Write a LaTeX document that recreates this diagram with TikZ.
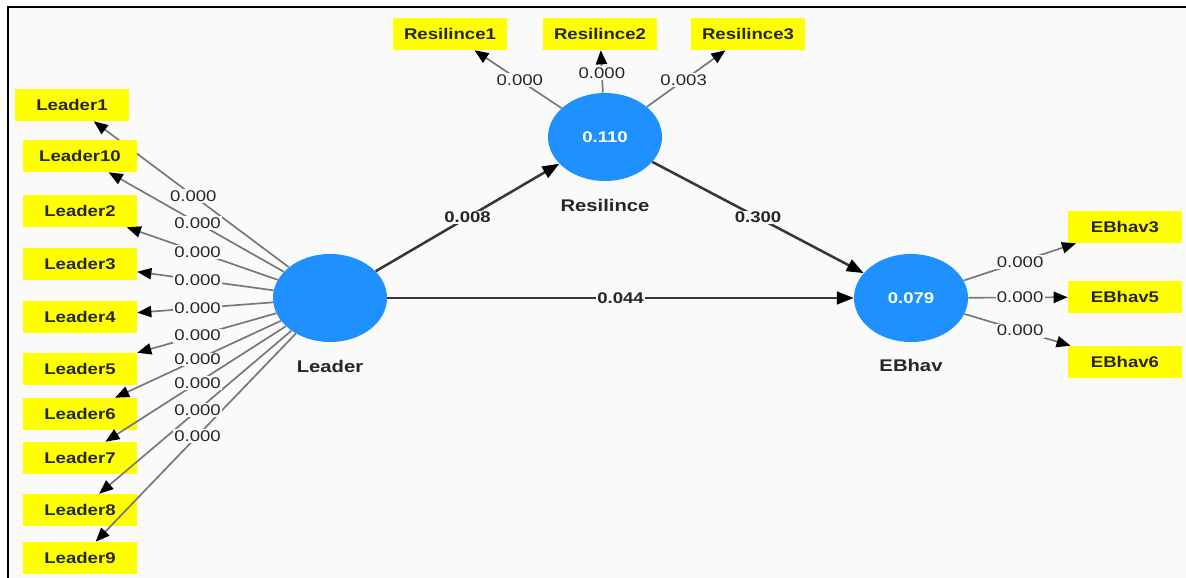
\documentclass[tikz,border=0pt]{standalone}
\usepackage{fontspec}
\setmainfont{Liberation Sans}[FakeStretch=1.2]
\usepackage{tikz}
\usetikzlibrary{arrows.meta,calc,positioning,shapes.geometric}
\definecolor{plsblue}{RGB}{30,144,255}
\definecolor{plsbg}{RGB}{250,250,250}
\definecolor{plsyel}{RGB}{255,255,0}
\definecolor{plsgray}{RGB}{120,120,120}
\definecolor{plsdark}{RGB}{55,55,55}

\begin{document}
\begin{tikzpicture}[x=0.025cm,y=-0.025cm,
  lv/.style={ellipse,fill=plsblue,minimum width=2.85cm,minimum height=2.2cm,inner sep=0pt,
    text=white,font=\bfseries\fontsize{11}{13}\selectfont},
  lvname/.style={font=\bfseries\fontsize{12}{14}\selectfont,text=black!85},
  mv/.style={rectangle,fill=plsyel,minimum width=2.85cm,minimum height=0.8cm,inner sep=0pt,
    font=\bfseries\fontsize{11}{13}\selectfont,text=black!85},
  ind/.style={draw=plsgray,line width=1.2pt,-{Triangle[length=10pt,width=8pt,color=black]}},
  pth/.style={draw=plsdark,line width=1.8pt,-{Triangle[length=12pt,width=9pt,color=black]}},
  wt/.style={fill=plsbg,inner sep=1pt,font=\fontsize{11}{13}\selectfont,text=black!85},
  pwt/.style={wt,font=\bfseries\fontsize{11}{13}\selectfont}]
  \useasboundingbox (0,0) rectangle (1186,578);
  \fill[white] (0,0) rectangle (1186,578);
  \fill[plsbg] (8,7) rectangle (1186,578);
  \draw[line width=2pt] (8,578) -- (8,7) -- (1186,7);

  % latent variables
  \node[lv] (lead) at (330,298) {};
  \node[lv] (res) at (605,137) {0.110};
  \node[lv] (ebh) at (911,298) {0.079};
  \node[lvname] (leadname) at (330,366) {Leader};
  \node[lvname] (resname) at (605,205) {Resilince};
  \node[lvname] (ebhname) at (911,365) {EBhav};

  % structural paths
  \draw[pth] (lead) -- (res);
  \draw[pth] (res) -- (ebh);
  \draw[pth] (lead) -- (ebh);
  \node[pwt] (p1) at ($(lead)!0.5!(res)$) {0.008};
  \node[pwt] (p2) at ($(res)!0.5!(ebh)$) {0.300};
  \node[pwt] (p3) at ($(lead)!0.5!(ebh)$) {0.044};

  % Leader indicators
  \foreach \n/\x/\y in {1/72/105,10/80/156,2/80/211,3/80/264,4/80/317,
                        5/80/369,6/80/414,7/80/458,8/80/510,9/80/558} {
    \node[mv] (l\n) at (\x,\y) {Leader\n};
    \draw[ind] (lead) -- (l\n);
  }
  \foreach \n in {1,10,2,3,4,5,6,7,8,9}
    \node[wt] (w\n) at ($(lead)!0.53!(l\n)$) {0.000};

  % Resilince indicators
  \node[mv] (r1) at (450,34) {Resilince1};
  \node[mv] (r2) at (600,34) {Resilince2};
  \node[mv] (r3) at (748,34) {Resilince3};
  \foreach \n/\v/\t in {1/0.000/0.55,2/0.000/0.62,3/0.003/0.55} {
    \draw[ind] (res) -- (r\n);
    \node[wt] (rw\n) at ($(res)!\t!(r\n)$) {\v};
  }

  % EBhav indicators
  \node[mv] (e3) at (1125,227) {EBhav3};
  \node[mv] (e5) at (1125,297) {EBhav5};
  \node[mv] (e6) at (1125,362) {EBhav6};
  \foreach \n in {3,5,6} {
    \draw[ind] (ebh) -- (e\n);
    \node[wt] (ew\n) at ($(ebh)!0.51!(e\n)$) {0.000};
  }
\end{tikzpicture}
\end{document}
